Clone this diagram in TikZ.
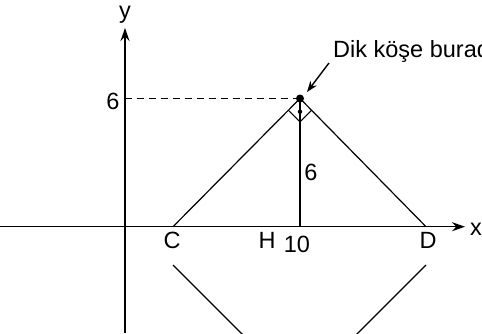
\documentclass[tikz,border=0pt]{standalone}
\usepackage{fontspec}
\setmainfont{Liberation Sans}
\usetikzlibrary{arrows.meta,calc}

\tikzset{
  lbl/.style={inner sep=0pt, anchor=base, font=\fontsize{23.5}{28}\selectfont},
  axis/.style={line width=1.4pt, -{Stealth[length=13pt, width=9pt]}},
  edge/.style={line width=1.2pt}
}

\begin{document}
\begin{tikzpicture}[line cap=butt, line join=miter, >=Stealth, x=1pt, y=1pt]
  \clip (0,0) rectangle (482,333);
  % axes
  \coordinate (O) at (125,106.3);
  \coordinate (xend) at (465,106.3);
  \coordinate (yend) at (125,305);
  \draw[axis] (0,106.3) -- (xend);
  \draw[axis] (125,0) -- (yend);
  \node[lbl] (ylab) at (125,314.5) {y};
  \node[lbl] (xlab) at (476,98) {x};
  % points
  \coordinate (A) at (300,234.5);
  \coordinate (C) at (173,106.3);
  \coordinate (D) at (426,106.3);
  \coordinate (H) at (300,106.3);
  \coordinate (Y6) at (125,234.5);
  \coordinate (C2) at (173,68);
  \coordinate (D2) at (426,68);
  \coordinate (B) at (299.5,-58.5);
  \coordinate (tip) at (307,241);
  % triangle
  \draw[edge] (C) -- (A) -- (D);
  \draw[edge] (A) -- (H);
  \draw[edge, dash pattern=on 7pt off 5pt] (Y6) -- (A);
  \draw[edge] (Y6) -- ++(5,0);
  % right angle mark
  \draw[line width=1pt] ($(A)+(-11.7,-11.7)$) -- ++(11.7,-11.7) -- ++(11.7,11.7);
  \fill ($(A)+(0,-13.2)$) circle (2.2);
  \fill (A) circle (4);
  % lower part
  \draw[edge] (C2) -- (B) -- (D2);
  % labels
  \node[lbl] (six) at (113,224) {6};
  \node[lbl] (sixh) at (311,153) {6};
  \node[lbl] (Clab) at (172,84.5) {C};
  \node[lbl] (Hlab) at (267,84.5) {H};
  \node[lbl] (ten) at (297,80.7) {10};
  \node[lbl] (Dlab) at (428,84.5) {D};
  \node[lbl, anchor=base west] (note) at (333,276) {Dik köşe burada};
  \draw[line width=1.4pt, -{Stealth[length=11pt, width=8pt]}] ($(note.base west)+(-4,-6)$) -- (tip);
\end{tikzpicture}
\end{document}
